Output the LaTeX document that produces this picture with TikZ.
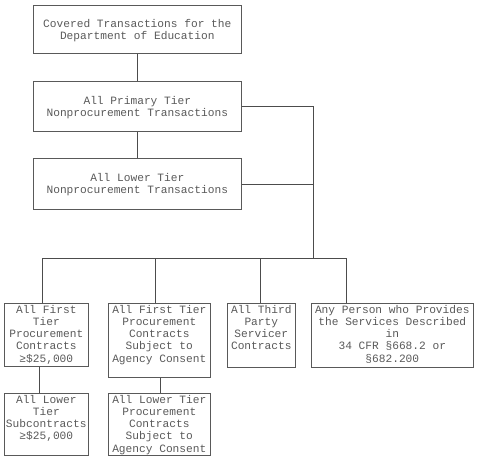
\documentclass[tikz,border=0pt]{standalone}
\usepackage{fontspec}
\setmainfont{Liberation Mono}
\begin{document}
\begin{tikzpicture}[x=1pt,y=-1pt,
  box/.style={draw=black!65, line width=0.6pt, inner sep=0pt, anchor=north west},
  txt/.style={font=\fontsize{11.2}{12.2}\selectfont, text=black!65, align=center, inner sep=2pt, anchor=north},
  ctxt/.style={font=\fontsize{11.2}{12.2}\selectfont, text=black!65, align=center},
  link/.style={draw=black!70, line width=0.6pt}]
\useasboundingbox (0,0) rectangle (481,459);
% top three boxes
\node[box, minimum width=208, minimum height=48] (top) at (33,5) {};
\node[ctxt] (toptxt) at ([yshift=-1pt]top.center) {Covered Transactions for the\\Department of Education};
\node[box, minimum width=208, minimum height=50] (prim) at (33,81) {};
\node[ctxt] (primtxt) at ([yshift=-1pt]prim.center) {All Primary Tier\\Nonprocurement Transactions};
\node[box, minimum width=208, minimum height=51] (lowr) at (33,158) {};
\node[ctxt] (lowrtxt) at ([yshift=-1pt]lowr.center) {All Lower Tier\\Nonprocurement Transactions};
% bottom boxes
\node[box, minimum width=84, minimum height=63] (a) at (4,303) {};
\node[txt] (atxt) at (a.north) {All First\\Tier\\Procurement\\Contracts\\≥\$25,000};
\node[box, minimum width=102, minimum height=74] (b) at (108,303) {};
\node[txt] (btxt) at (b.north) {All First Tier\\Procurement\\Contracts\\Subject to\\Agency Consent};
\node[box, minimum width=68, minimum height=64] (c) at (227,303) {};
\node[txt] (ctxtn) at (c.north) {All Third\\Party\\Servicer\\Contracts};
\node[box, minimum width=162, minimum height=64] (d) at (311,303) {};
\node[txt] (dtxt) at (d.north) {Any Person who Provides\\the Services Described\\in\hspace*{66pt}\\34 CFR §668.2 or\hspace*{19pt}\\§682.200};
\node[box, minimum width=84, minimum height=62] (a2) at (4,393) {};
\node[txt] (a2txt) at (a2.north) {All Lower\\Tier\\Subcontracts\\≥\$25,000};
\node[box, minimum width=102, minimum height=62] (b2) at (108,393) {};
\node[txt] (b2txt) at (b2.north) {All Lower Tier\\Procurement\\Contracts\\Subject to\\Agency Consent};
% coordinates
\coordinate (rt) at (313,258);
\coordinate (busa) at (42,258);
\coordinate (busb) at (155,258);
\coordinate (busc) at (260,258);
\coordinate (busd) at (346,258);
% connectors
\draw[link] (top.south) -- (prim.north);
\draw[link] (prim.south) -- (lowr.north);
\draw[link] (prim.east) -| (rt);
\draw[link] (lowr.east) -- (lowr.east -| rt);
\draw[link] (busa) -- (busd);
\draw[link] (busa) -- (busa |- a.north);
\draw[link] (busb) -- (busb |- b.north);
\draw[link] (busc) -- (busc |- c.north);
\draw[link] (busd) -- (busd |- d.north);
\draw[link] ([xshift=-7pt]a.south) -- ([xshift=-7pt]a2.north);
\draw[link] ([xshift=1pt]b.south) -- ([xshift=1pt]b2.north);
\end{tikzpicture}
\end{document}
